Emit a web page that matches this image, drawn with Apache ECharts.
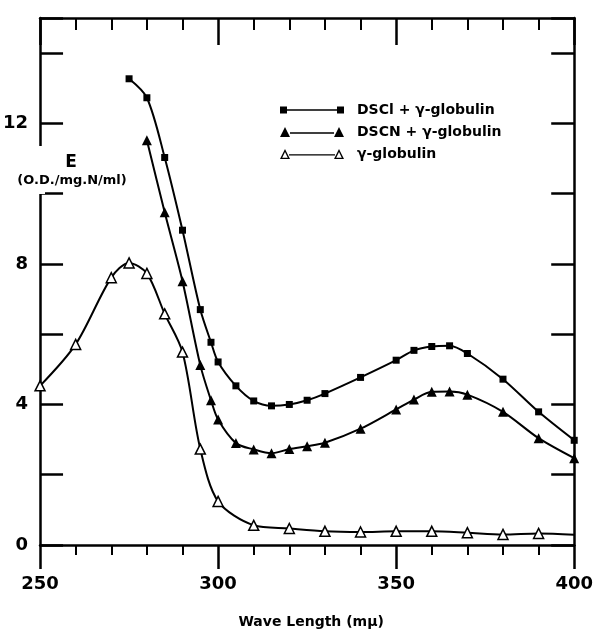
<!DOCTYPE html>
<html>
<head>
<meta charset="utf-8">
<script src="https://cdn.jsdelivr.net/npm/echarts@6/dist/echarts.min.js"></script>
<style>
html,body{margin:0;padding:0;background:#fff;}
#chart{width:596px;height:634px;}
</style>
</head>
<body>
<div id="chart"></div>
<script>
// Wavelengths (mμ) and extinction values E (O.D./mg.N/ml)
const wlDSCl = [275,280,285,290,295,298,300,305,310,315,320,325,330,340,350,355,360,365,370,380,390,400];
const eDSCl  = [13.27,12.73,11.03,8.96,6.70,5.77,5.21,4.53,4.10,3.96,4.00,4.12,4.31,4.77,5.26,5.54,5.65,5.67,5.45,4.72,3.79,2.98];

const wlDSCN = [280,285,290,295,298,300,305,310,315,320,325,330,340,350,355,360,365,370,380,390,400];
const eDSCN  = [11.52,9.47,7.51,5.12,4.12,3.57,2.90,2.72,2.61,2.73,2.81,2.91,3.31,3.86,4.14,4.36,4.37,4.28,3.79,3.04,2.47];

const wlGamma = [250,260,270,275,280,285,290,295,300,310,320,330,340,350,360,370,380,390,400];
const eGamma  = [4.53,5.71,7.61,8.03,7.73,6.58,5.49,2.73,1.24,0.56,0.47,0.39,0.37,0.39,0.39,0.35,0.30,0.33,0.29];
const gammaUnmarked = [400]; // line continues to axis without a marker

const seriesNames = ['DSCl + γ-globulin', 'DSCN + γ-globulin', 'γ-globulin'];
const xTickLabels = [250, 300, 350, 400];
const yTickLabels = [0, 4, 8, 12];

const FONT = 'DejaVu Sans';

function pairs(xs, ys){ return xs.map((x,i)=>[x, ys[i]]); }

const chart = echarts.init(document.getElementById('chart'), null, {renderer:'canvas'});

const axisLine = {show:true, onZero:false, lineStyle:{color:'#000', width:2.5}};

const option = {
  backgroundColor:'#fff',
  animation:false,
  grid:{left:39, right:20, top:18, bottom:79, containLabel:false},
  legend:{
    orient:'vertical', left:275, top:98,
    itemWidth:64, itemHeight:10, itemGap:8,
    textStyle:{fontFamily:FONT, fontSize:14, fontWeight:'bold', color:'#000', padding:[0,0,0,8]},
    data:[
      {name:seriesNames[0], icon:'path://M0,0h7v7h-7z M7,2.7h50v1.6h-50z M57,0h7v7h-7z', itemStyle:{color:'#000', borderWidth:0}},
      {name:seriesNames[1], icon:'path://M0,10L5,0L10,10z M10,5.2h44v1.6h-44z M54,10L59,0L64,10z', itemStyle:{color:'#000', borderWidth:0}},
      {name:seriesNames[2], icon:'path://M0,10L5,0L10,10z M2.2,8.7L7.8,8.7L5,3z M9,5.2h46v1.4h-46z M54,10L59,0L64,10z M56.2,8.7L61.8,8.7L59,3z', itemStyle:{color:'#000', borderWidth:0}}
    ]
  },
  xAxis:[
    {
      type:'value', position:'bottom', min:250, max:400, interval:50,
      axisLine:axisLine,
      axisTick:{show:true, inside:false, length:24, lineStyle:{color:'#000', width:2.5}},
      minorTick:{show:true, splitNumber:5, length:10, lineStyle:{color:'#000', width:2}},
      splitLine:{show:false}, minorSplitLine:{show:false},
      axisLabel:{show:true, margin:30, color:'#000', fontFamily:FONT, fontSize:18, fontWeight:'bold',
        formatter:v => xTickLabels.includes(v) ? String(v) : ''},
      name:'Wave Length (mμ)', nameLocation:'middle', nameGap:70,
      nameTextStyle:{color:'#000', fontFamily:FONT, fontSize:14, fontWeight:'bold', padding:[0,0,0,8]}
    },
    {
      type:'value', position:'top', min:250, max:400, interval:50,
      axisLine:axisLine,
      axisTick:{show:true, inside:true, length:27, lineStyle:{color:'#000', width:2.5}},
      minorTick:{show:true, splitNumber:5, length:12, lineStyle:{color:'#000', width:2}},
      splitLine:{show:false}, axisLabel:{show:false}
    }
  ],
  yAxis:[
    {
      type:'value', position:'left', min:0, max:15, interval:2,
      axisLine:axisLine,
      axisTick:{show:true, inside:true, length:23, lineStyle:{color:'#000', width:2.5}},
      splitLine:{show:false},
      axisLabel:{show:true, margin:12, color:'#000', fontFamily:FONT, fontSize:18, fontWeight:'bold',
        formatter:v => yTickLabels.includes(v) ? String(v) : ''}
    },
    {
      type:'value', position:'right', min:0, max:15, interval:2,
      axisLine:axisLine,
      axisTick:{show:true, inside:true, length:23, lineStyle:{color:'#000', width:2.5}},
      splitLine:{show:false}, axisLabel:{show:false}
    }
  ],
  graphic:[
    {type:'rect', z:100, shape:{x:33, y:146, width:12, height:48}, style:{fill:'#fff'}},
    {type:'text', z:101, x:71, y:163, style:{text:'E', fill:'#000', font:'bold 17px "DejaVu Sans"', align:'center', verticalAlign:'middle'}},
    {type:'text', z:101, x:72, y:181, style:{text:'(O.D./mg.N/ml)', fill:'#000', font:'bold 13px "DejaVu Sans"', align:'center', verticalAlign:'middle'}}
  ],
  series:[
    {
      name:seriesNames[0], type:'line', xAxisIndex:0, yAxisIndex:0,
      data:pairs(wlDSCl, eDSCl), smooth:0.3,
      symbol:'rect', symbolSize:7,
      lineStyle:{color:'#000', width:2}, itemStyle:{color:'#000'}
    },
    {
      name:seriesNames[1], type:'line', xAxisIndex:0, yAxisIndex:0,
      data:pairs(wlDSCN, eDSCN), smooth:0.3,
      symbol:'triangle', symbolSize:10,
      lineStyle:{color:'#000', width:2}, itemStyle:{color:'#000'}
    },
    {
      name:seriesNames[2], type:'line', xAxisIndex:0, yAxisIndex:0,
      data:wlGamma.map((x,i)=> gammaUnmarked.includes(x) ? {value:[x, eGamma[i]], symbol:'none'} : [x, eGamma[i]]),
      smooth:0.3,
      symbol:'triangle', symbolSize:10, showAllSymbol:true,
      lineStyle:{color:'#000', width:2}, itemStyle:{color:'#fff', borderColor:'#000', borderWidth:1.5}
    }
  ]
};
chart.setOption(option);
</script>
</body>
</html>
